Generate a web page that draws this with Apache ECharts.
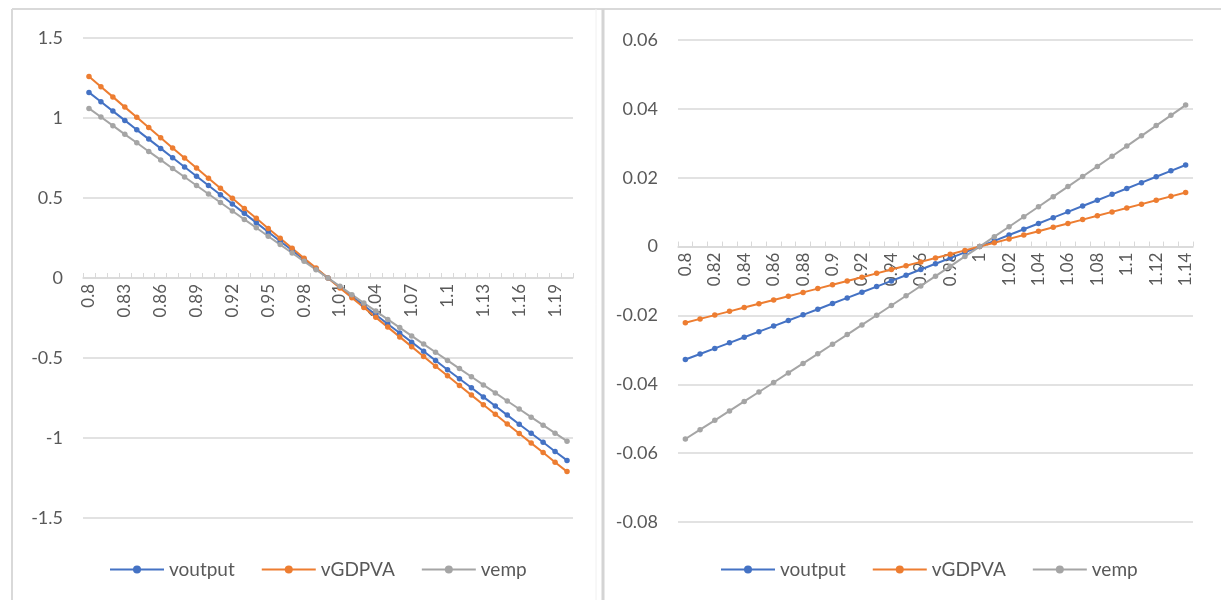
<!DOCTYPE html>
<html>
<head>
<meta charset="utf-8">
<script src="https://cdn.jsdelivr.net/npm/echarts@6/dist/echarts.min.js"></script>
<style>
  html, body { margin: 0; padding: 0; background: #fff; }
  #main { width: 1221px; height: 600px; }
</style>
</head>
<body>
<div id="main"></div>
<script>
// left panel: 0.8 .. 1.2
var leftCats = ['0.8','0.81','0.82','0.83','0.84','0.85','0.86','0.87','0.88','0.89',
  '0.9','0.91','0.92','0.93','0.94','0.95','0.96','0.97','0.98','0.99',
  '1','1.01','1.02','1.03','1.04','1.05','1.06','1.07','1.08','1.09',
  '1.1','1.11','1.12','1.13','1.14','1.15','1.16','1.17','1.18','1.19','1.2'];
var leftOutput = [1.160,1.102,1.043,0.985,0.926,0.868,0.810,0.752,0.694,0.636,
  0.578,0.520,0.462,0.404,0.346,0.288,0.230,0.173,0.115,0.058,
  0,-0.058,-0.115,-0.172,-0.230,-0.287,-0.344,-0.401,-0.458,-0.516,
  -0.573,-0.630,-0.686,-0.743,-0.800,-0.857,-0.914,-0.970,-1.027,-1.084,-1.140];
var leftGdpva = [1.260,1.196,1.132,1.068,1.004,0.940,0.877,0.813,0.750,0.687,
  0.624,0.561,0.498,0.435,0.373,0.310,0.248,0.186,0.124,0.062,
  0,-0.062,-0.123,-0.185,-0.246,-0.307,-0.368,-0.429,-0.490,-0.551,
  -0.611,-0.672,-0.732,-0.792,-0.852,-0.912,-0.972,-1.032,-1.091,-1.151,-1.210];
var leftEmp = [1.060,1.006,0.952,0.898,0.845,0.791,0.738,0.684,0.631,0.578,
  0.525,0.472,0.419,0.366,0.314,0.261,0.209,0.156,0.104,0.052,
  0,-0.052,-0.104,-0.156,-0.207,-0.259,-0.310,-0.362,-0.413,-0.464,
  -0.515,-0.566,-0.617,-0.668,-0.718,-0.769,-0.819,-0.870,-0.920,-0.970,-1.020];

// right panel: 0.8 .. 1.14
var rightCats = ['0.8','0.81','0.82','0.83','0.84','0.85','0.86','0.87','0.88','0.89',
  '0.9','0.91','0.92','0.93','0.94','0.95','0.96','0.97','0.98','0.99',
  '1','1.01','1.02','1.03','1.04','1.05','1.06','1.07','1.08','1.09',
  '1.1','1.11','1.12','1.13','1.14'];
var rightOutput = [-0.0328,-0.03119,-0.02957,-0.02796,-0.02634,-0.02472,-0.02309,-0.02146,-0.01983,-0.01819,
  -0.01655,-0.01491,-0.01327,-0.01162,-0.00997,-0.00832,-0.00666,-0.005,-0.00334,-0.00167,
  0,0.00167,0.00335,0.00503,0.00671,0.00839,0.01008,0.01177,0.01347,0.01517,
  0.01687,0.01857,0.02028,0.02199,0.0237];
var rightGdpva = [-0.02211,-0.02101,-0.01991,-0.01882,-0.01772,-0.01662,-0.01552,-0.01441,-0.01331,-0.01221,
  -0.0111,-0.01,-0.00889,-0.00778,-0.00667,-0.00556,-0.00445,-0.00334,-0.00223,-0.00111,
  0,0.00112,0.00223,0.00335,0.00447,0.00559,0.00671,0.00783,0.00895,0.01007,
  0.0112,0.01232,0.01345,0.01458,0.0157];
var rightEmp = [-0.0559,-0.05319,-0.05046,-0.04773,-0.04499,-0.04224,-0.03948,-0.03671,-0.03394,-0.03116,
  -0.02837,-0.02557,-0.02276,-0.01994,-0.01712,-0.01429,-0.01145,-0.0086,-0.00574,-0.00287,
  0,0.00288,0.00577,0.00867,0.01158,0.01449,0.01742,0.02035,0.02329,0.02624,
  0.02919,0.03216,0.03513,0.03811,0.0411];

var names = ['voutput', 'vGDPVA', 'vemp'];
var colors = ['#4472C4', '#ED7D31', '#A5A5A5'];

var chart = echarts.init(document.getElementById('main'));

var FONT = 'Lato';
var gridColor = '#d9d9d9';
var labelColor = '#595959';

var grids = [
    { left: 83, right: 648, top: 38, bottom: 82 },
    { left: 678, right: 28, top: 40, bottom: 78 }
];
var yRanges = [[-1.5, 1.5, 0.5], [-0.08, 0.06, 0.02]];

// the category axis sits on the zero line (as in Excel), labels included
function zeroOffset(i) {
    var h = 600 - grids[i].top - grids[i].bottom;
    var r = yRanges[i];
    return -h * (0 - r[0]) / (r[1] - r[0]);
}

function xAxisFor(gridIndex, cats, labelInterval) {
    return {
        type: 'category',
        gridIndex: gridIndex,
        data: cats,
        position: 'bottom',
        offset: zeroOffset(gridIndex),
        boundaryGap: true,
        axisLine: { onZero: false, lineStyle: { color: gridColor, width: 1.5 } },
        axisTick: { show: true, inside: true, interval: 0, length: 5, lineStyle: { color: gridColor } },
        axisLabel: {
            interval: labelInterval,
            rotate: 90,
            margin: 6,
            color: labelColor,
            fontFamily: FONT,
            fontSize: 17
        },
        splitLine: { show: false }
    };
}

function yAxisFor(gridIndex) {
    var r = yRanges[gridIndex];
    return {
        type: 'value',
        gridIndex: gridIndex,
        min: r[0],
        max: r[1],
        interval: r[2],
        axisLine: { show: false },
        axisTick: { show: false },
        axisLabel: { color: labelColor, fontFamily: FONT, fontSize: 18, margin: 20 },
        splitLine: { lineStyle: { color: gridColor, width: 1.5 } }
    };
}

function seriesFor(axisIndex, data) {
    return data.map(function (d, i) {
        return {
            name: names[i],
            type: 'line',
            xAxisIndex: axisIndex,
            yAxisIndex: axisIndex,
            data: d,
            symbol: 'circle',
            symbolSize: 5.5,
            lineStyle: { width: 2, color: colors[i] },
            itemStyle: { color: colors[i] },
            z: 3,
            animation: false
        };
    });
}

function legendFor(left) {
    return {
        data: names,
        left: left,
        top: 555,
        itemWidth: 54,
        itemHeight: 10,
        itemGap: 26,
        textStyle: { color: labelColor, fontFamily: FONT, fontSize: 19 }
    };
}

var options = {
    backgroundColor: '#fff',
    color: colors,
    grid: grids,
    xAxis: [xAxisFor(0, leftCats, 2), xAxisFor(1, rightCats, 1)],
    yAxis: [yAxisFor(0), yAxisFor(1)],
    legend: [legendFor(104), legendFor(715)],
    series: seriesFor(0, [leftOutput, leftGdpva, leftEmp])
        .concat(seriesFor(1, [rightOutput, rightGdpva, rightEmp])),
    graphic: [
        // panel frames
        { type: 'line', shape: { x1: 12, y1: 9, x2: 1221, y2: 9 }, style: { stroke: '#d9d9d9', lineWidth: 2 } },
        { type: 'line', shape: { x1: 12, y1: 9, x2: 12, y2: 600 }, style: { stroke: '#d9d9d9', lineWidth: 2 } },
        { type: 'line', shape: { x1: 596, y1: 9, x2: 596, y2: 600 }, style: { stroke: '#f0f0f0', lineWidth: 1 } },
        { type: 'line', shape: { x1: 603, y1: 9, x2: 603, y2: 600 }, style: { stroke: '#d4d4d4', lineWidth: 3 } }
    ]
};

chart.setOption(options);
</script>
</body>
</html>
